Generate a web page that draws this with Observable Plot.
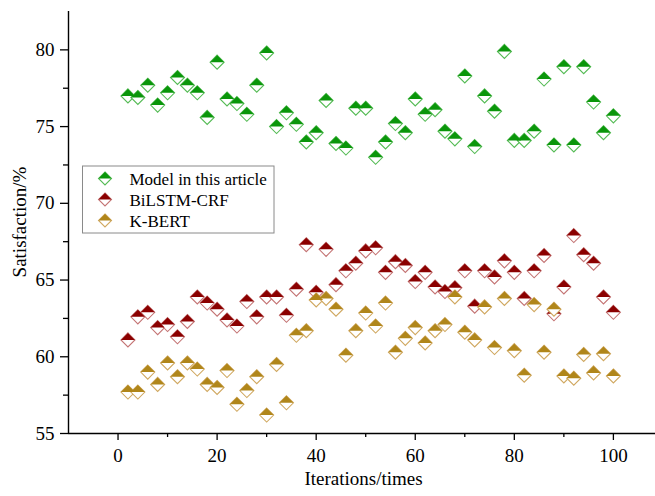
<!DOCTYPE html>
<html>
<head>
<meta charset="utf-8">
<script src="https://cdn.jsdelivr.net/npm/d3@7"></script>
<script src="https://cdn.jsdelivr.net/npm/@observablehq/plot@0.6"></script>
<style>
  html, body { margin: 0; padding: 0; background: #fff; }
  #chart svg { display: block; }
</style>
</head>
<body>
<div id="chart"></div>
<script>
const iterations = [2,4,6,8,10,12,14,16,18,20,22,24,26,28,30,32,34,36,38,40,42,44,46,48,50,
  52,54,56,58,60,62,64,66,68,70,72,74,76,78,80,82,84,86,88,90,92,94,96,98,100];

const modelValues = [77.0,76.9,77.7,76.4,77.2,78.2,77.7,77.2,75.6,79.2,76.8,76.5,75.8,77.7,79.8,75.0,75.9,75.15,74.0,74.6,
  76.7,73.9,73.6,76.2,76.2,73.0,74.0,75.2,74.6,76.8,75.8,76.1,74.7,74.2,78.3,73.7,77.0,76.0,79.9,74.1,
  74.1,74.7,78.1,73.8,78.9,73.8,78.9,76.6,74.6,75.7];

const bilstmValues = [61.1,62.6,62.9,61.9,62.1,61.3,62.3,63.9,63.5,63.1,62.4,62.0,63.6,62.6,63.9,63.9,62.7,64.4,67.3,64.2,
  67.0,64.7,65.6,66.1,66.9,67.1,65.5,66.2,65.95,64.9,65.5,64.55,64.25,64.5,65.6,63.3,65.6,65.2,66.25,65.5,
  63.8,65.6,66.6,62.8,64.55,67.9,66.65,66.1,63.9,62.9];

const kbertValues = [57.7,57.7,59.0,58.2,59.6,58.7,59.6,59.2,58.2,58.0,59.1,56.9,57.8,58.7,56.2,59.5,57.0,61.4,61.7,63.7,
  63.8,63.1,60.1,61.7,62.85,62.0,63.5,60.3,61.2,61.9,60.9,61.7,62.1,63.9,61.6,61.1,63.25,60.6,63.8,60.4,
  58.8,63.4,60.3,63.1,58.75,58.6,60.15,58.95,60.2,58.75];

const seriesNames = ["Model in this article", "BiLSTM-CRF", "K-BERT"];
const seriesFill = ["#0a960a", "#8b0000", "#b0861a"];
const seriesStroke = ["#55bb55", "#c47474", "#d0a860"];

const xMajorTicks = [0, 20, 40, 60, 80, 100];
const xMinorTicks = [10, 30, 50, 70, 90];
const yMajorTicks = [55, 60, 65, 70, 75, 80];
const yMinorTicks = [57.5, 62.5, 67.5, 72.5, 77.5];

const FONT = "'Liberation Serif', 'Times New Roman', serif";
const R = 7;

const halfTop = {
  draw(ctx, size) {
    const h = Math.sqrt(size / Math.PI);
    ctx.moveTo(-h, 0);
    ctx.lineTo(0, -h);
    ctx.lineTo(h, 0);
    ctx.closePath();
  }
};
const diamondOutline = {
  draw(ctx, size) {
    const h = Math.sqrt(size / Math.PI);
    ctx.moveTo(0, -h);
    ctx.lineTo(h, 0);
    ctx.lineTo(0, h);
    ctx.lineTo(-h, 0);
    ctx.closePath();
  }
};

const allValues = [modelValues, bilstmValues, kbertValues];
const tables = allValues.map(vals => iterations.map((x, i) => ({x, y: vals[i]})));

const dotMarks = [];
tables.forEach((t, k) => {
  dotMarks.push(Plot.dot(t, {x: "x", y: "y", r: R, symbol: diamondOutline, fill: "white", stroke: seriesStroke[k], strokeWidth: 1.1}));
  dotMarks.push(Plot.dot(t, {x: "x", y: "y", r: R, symbol: halfTop, fill: seriesFill[k], stroke: "none"}));
});

const W = 655, H = 496;
const mL = 68, mR = 0, mT = 11, mB = 63;

const chart = Plot.plot({
  width: W,
  height: H,
  marginLeft: mL,
  marginRight: mR,
  marginTop: mT,
  marginBottom: mB,
  style: {fontFamily: FONT, color: "black", background: "white", overflow: "visible"},
  x: {domain: [-10, 108.5]},
  y: {domain: [55, 82.5]},
  marks: [
    Plot.axisX({ticks: xMajorTicks, tickSize: 7, tickPadding: 8, fontSize: 19, label: null, strokeWidth: 1.3}),
    Plot.axisX({ticks: xMinorTicks, tickSize: 4, tickFormat: () => "", label: null, strokeWidth: 1.3}),
    Plot.axisY({ticks: yMajorTicks, tickSize: 8, tickPadding: 6, fontSize: 19, label: null, strokeWidth: 1.3}),
    Plot.axisY({ticks: yMinorTicks, tickSize: 5, tickFormat: () => "", label: null, strokeWidth: 1.3}),
    Plot.ruleY([55], {stroke: "black", strokeWidth: 1.4}),
    Plot.ruleX([-10], {stroke: "black", strokeWidth: 1.4}),
    ...dotMarks
  ]
});

document.getElementById("chart").appendChild(chart);

const svg = d3.select(chart);
// axis titles
svg.append("text")
  .attr("x", mL + (W - mL) / 2 + 2)
  .attr("y", 485)
  .attr("text-anchor", "middle")
  .style("font-family", FONT)
  .style("font-size", "19px")
  .attr("fill", "black")
  .text("Iterations/times");
svg.append("text")
  .attr("transform", `translate(26, ${(mT + H - mB) / 2}) rotate(-90)`)
  .attr("text-anchor", "middle")
  .style("font-family", FONT)
  .style("font-size", "19px")
  .attr("fill", "black")
  .text("Satisfaction/%");

// legend
const lg = svg.append("g");
lg.append("rect")
  .attr("x", 82.5).attr("y", 166)
  .attr("width", 191.5).attr("height", 67)
  .attr("fill", "white").attr("stroke", "#8a8a8a").attr("stroke-width", 1);
const rowY = [178.5, 199.5, 220.5];
const symSize = Math.PI * 6.5 * 6.5;
seriesNames.forEach((name, k) => {
  lg.append("path")
    .attr("transform", `translate(105, ${rowY[k]})`)
    .attr("d", d3.symbol(diamondOutline, symSize)())
    .attr("fill", "white").attr("stroke", seriesStroke[k]).attr("stroke-width", 1.1);
  lg.append("path")
    .attr("transform", `translate(105, ${rowY[k]})`)
    .attr("d", d3.symbol(halfTop, symSize)())
    .attr("fill", seriesFill[k]);
  lg.append("text")
    .attr("x", 129.5).attr("y", rowY[k] + 6)
    .attr("text-anchor", "start")
    .style("text-anchor", "start")
    .style("font-family", FONT)
    .style("font-size", "17px")
    .attr("fill", "black")
    .text(name);
});
</script>
</body>
</html>
